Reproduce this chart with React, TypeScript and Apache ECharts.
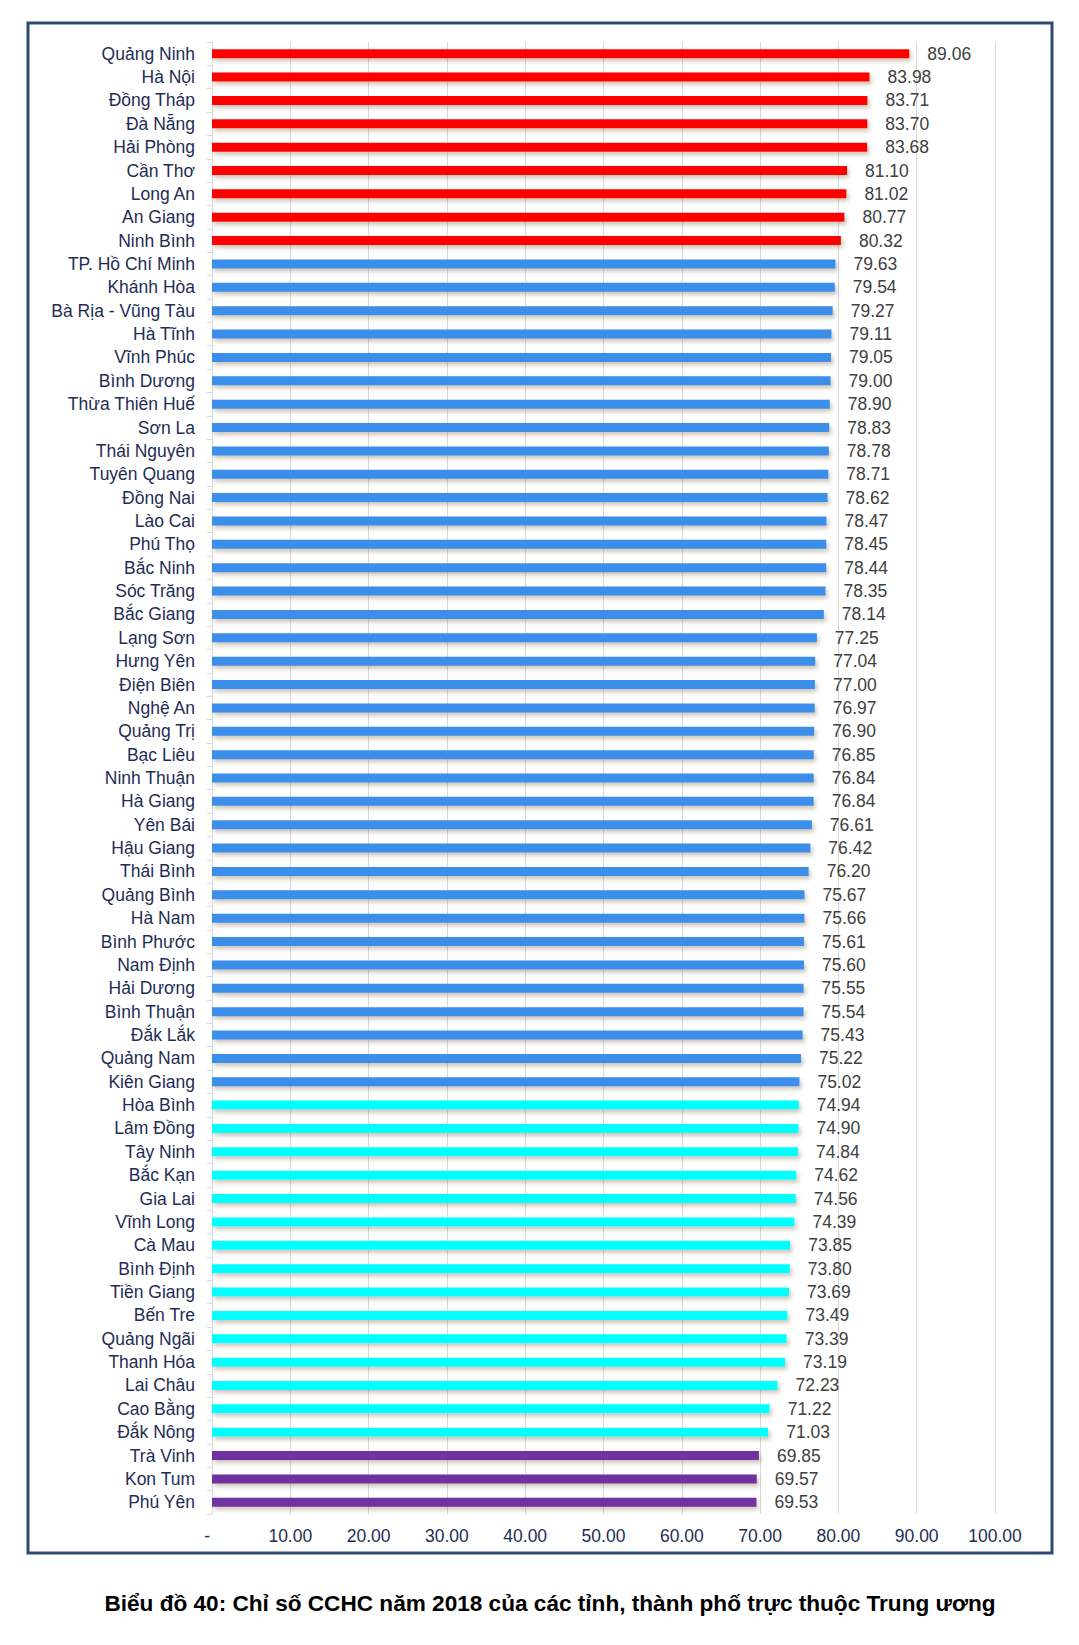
import React, { useEffect, useRef } from "react";
import * as echarts from "echarts";

const provinces = [
  "Quảng Ninh", "Hà Nội", "Đồng Tháp", "Đà Nẵng", "Hải Phòng", "Cần Thơ", "Long An", "An Giang", "Ninh Bình",
  "TP. Hồ Chí Minh", "Khánh Hòa", "Bà Rịa - Vũng Tàu", "Hà Tĩnh", "Vĩnh Phúc", "Bình Dương", "Thừa Thiên Huế",
  "Sơn La", "Thái Nguyên", "Tuyên Quang", "Đồng Nai", "Lào Cai", "Phú Thọ", "Bắc Ninh", "Sóc Trăng", "Bắc Giang",
  "Lạng Sơn", "Hưng Yên", "Điện Biên", "Nghệ An", "Quảng Trị", "Bạc Liêu", "Ninh Thuận", "Hà Giang", "Yên Bái",
  "Hậu Giang", "Thái Bình", "Quảng Bình", "Hà Nam", "Bình Phước", "Nam Định", "Hải Dương", "Bình Thuận", "Đắk Lắk",
  "Quảng Nam", "Kiên Giang", "Hòa Bình", "Lâm Đồng", "Tây Ninh", "Bắc Kạn", "Gia Lai", "Vĩnh Long", "Cà Mau",
  "Bình Định", "Tiền Giang", "Bến Tre", "Quảng Ngãi", "Thanh Hóa", "Lai Châu", "Cao Bằng", "Đắk Nông",
  "Trà Vinh", "Kon Tum", "Phú Yên",
];

const scores = [
  89.06, 83.98, 83.71, 83.70, 83.68, 81.10, 81.02, 80.77, 80.32,
  79.63, 79.54, 79.27, 79.11, 79.05, 79.00, 78.90,
  78.83, 78.78, 78.71, 78.62, 78.47, 78.45, 78.44, 78.35, 78.14,
  77.25, 77.04, 77.00, 76.97, 76.90, 76.85, 76.84, 76.84, 76.61,
  76.42, 76.20, 75.67, 75.66, 75.61, 75.60, 75.55, 75.54, 75.43,
  75.22, 75.02, 74.94, 74.90, 74.84, 74.62, 74.56, 74.39, 73.85,
  73.80, 73.69, 73.49, 73.39, 73.19, 72.23, 71.22, 71.03,
  69.85, 69.57, 69.53,
];

// group sizes in order: red, blue, cyan, purple
const groupCounts = [9, 36, 15, 3];
const groupColors = ["#ff0000", "#3b8eea", "#00ffff", "#7030a0"];

const xTicks = [0, 10, 20, 30, 40, 50, 60, 70, 80, 90, 100];

const titleText = "Biểu đồ 40: Chỉ số CCHC năm 2018 của các tỉnh, thành phố trực thuộc Trung ương";

const FONT = "'Liberation Sans', Arial, sans-serif";

export default function App() {
  const ref = useRef<HTMLDivElement>(null);

  useEffect(() => {
    if (!ref.current) return;
    const chart = echarts.init(ref.current, null, { renderer: "svg" });

    const colorOf: string[] = [];
    groupCounts.forEach((c, g) => {
      for (let i = 0; i < c; i++) colorOf.push(groupColors[g]);
    });

    const data = scores.map((v, i) => ({
      value: v,
      itemStyle: { color: colorOf[i] },
    }));

    chart.setOption({
      animation: false,
      backgroundColor: "#ffffff",
      textStyle: { fontFamily: FONT },
      grid: { left: 212, right: 84, top: 42, bottom: 131, containLabel: false },
      xAxis: {
        type: "value",
        min: xTicks[0],
        max: xTicks[xTicks.length - 1],
        interval: 10,
        axisLine: { show: false },
        axisTick: { show: false },
        splitLine: { show: true, lineStyle: { color: "#d9d9d9", width: 1 } },
        axisLabel: {
          margin: 13,
          fontSize: 17.5,
          fontFamily: FONT,
          color: "#1f2d55",
          formatter: (v: number) => (v === 0 ? "-  " : v.toFixed(2)),
        },
      },
      yAxis: {
        type: "category",
        inverse: true,
        data: provinces,
        axisLine: { show: true, lineStyle: { color: "#d9d9d9", width: 1 } },
        axisTick: { show: true, length: 5, lineStyle: { color: "#d9d9d9" } },
        axisLabel: {
          margin: 17,
          fontSize: 17.5,
          fontFamily: FONT,
          color: "#1f2d55",
          interval: 0,
        },
      },
      series: [
        {
          type: "bar",
          data,
          barWidth: 9,
          itemStyle: {
            shadowColor: "rgba(110, 90, 50, 0.35)",
            shadowBlur: 4,
            shadowOffsetX: 2,
            shadowOffsetY: 3,
          },
          label: {
            show: true,
            position: "right",
            distance: 18,
            fontSize: 17.5,
            fontFamily: FONT,
            color: "#404040",
            formatter: (p: any) => Number(p.value).toFixed(2),
          },
        },
      ],
      graphic: [
        {
          type: "rect",
          shape: { x: 28, y: 23, width: 1024, height: 1530 },
          style: { fill: "none", stroke: "#2e4a70", lineWidth: 3 },
          silent: true,
        },
        {
          type: "text",
          x: 550,
          y: 1603,
          style: {
            text: titleText,
            fontSize: 22.6,
            fontWeight: "bold",
            fontFamily: FONT,
            fill: "#000000",
            align: "center",
            verticalAlign: "middle",
          },
        },
      ],
    });

    return () => chart.dispose();
  }, []);

  return (
    <div
      ref={ref}
      style={{ position: "absolute", left: 0, top: 0, width: 1079, height: 1645 }}
    />
  );
}
